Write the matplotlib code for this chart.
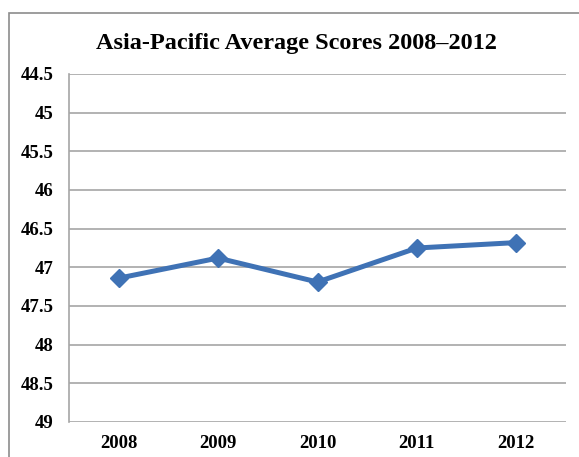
import matplotlib.pyplot as plt
from matplotlib.patches import Rectangle

years = ['2008', '2009', '2010', '2011', '2012']
scores = [47.14, 46.88, 47.19, 46.75, 46.68]
y_ticks = [44.5, 45, 45.5, 46, 46.5, 47, 47.5, 48, 48.5, 49]
y_labels = ['44.5', '45', '45.5', '46', '46.5', '47', '47.5', '48', '48.5', '49']

plt.rcParams['font.family'] = ['Liberation Serif', 'DejaVu Serif']

fig = plt.figure(figsize=(5.79, 4.57), dpi=100)

# outer chart frame (cut off at right and bottom like the reference)
fig.patches.append(Rectangle((9 / 579, -0.05), 1.1, 1 - 12.5 / 457 + 0.05,
                             transform=fig.transFigure, fill=False,
                             edgecolor='#8C8C8C', linewidth=1.2))

ax = fig.add_axes([69 / 579, 1 - 422 / 457, 497 / 579, 348 / 457])

x = list(range(len(years)))
ax.plot(x, scores, color='#3F72B5', linewidth=3.6, marker='D',
        markersize=9, zorder=3)

ax.set_xlim(-0.5, len(years) - 0.5)
ax.set_ylim(49, 44.5)
ax.set_yticks(y_ticks)
ax.set_yticklabels(y_labels)
ax.set_xticks(x)
ax.set_xticklabels(years)
ax.grid(axis='y', color='#A6A6A6', linewidth=1.2)
ax.set_axisbelow(True)

for s in ['top', 'right', 'bottom']:
    ax.spines[s].set_visible(False)
ax.spines['left'].set_color('#A6A6A6')
ax.spines['left'].set_linewidth(1.2)

ax.tick_params(length=0)
ax.tick_params(axis='y', pad=11)
ax.tick_params(axis='x', pad=9)
for lbl in ax.get_xticklabels() + ax.get_yticklabels():
    lbl.set_fontsize(13.5)
    lbl.set_fontweight('bold')

fig.text(296 / 579, 1 - 43.5 / 457, 'Asia-Pacific Average Scores 2008\u20132012',
         ha='center', va='center', fontsize=17.5, fontweight='bold')

plt.savefig('out.png', dpi=100)
